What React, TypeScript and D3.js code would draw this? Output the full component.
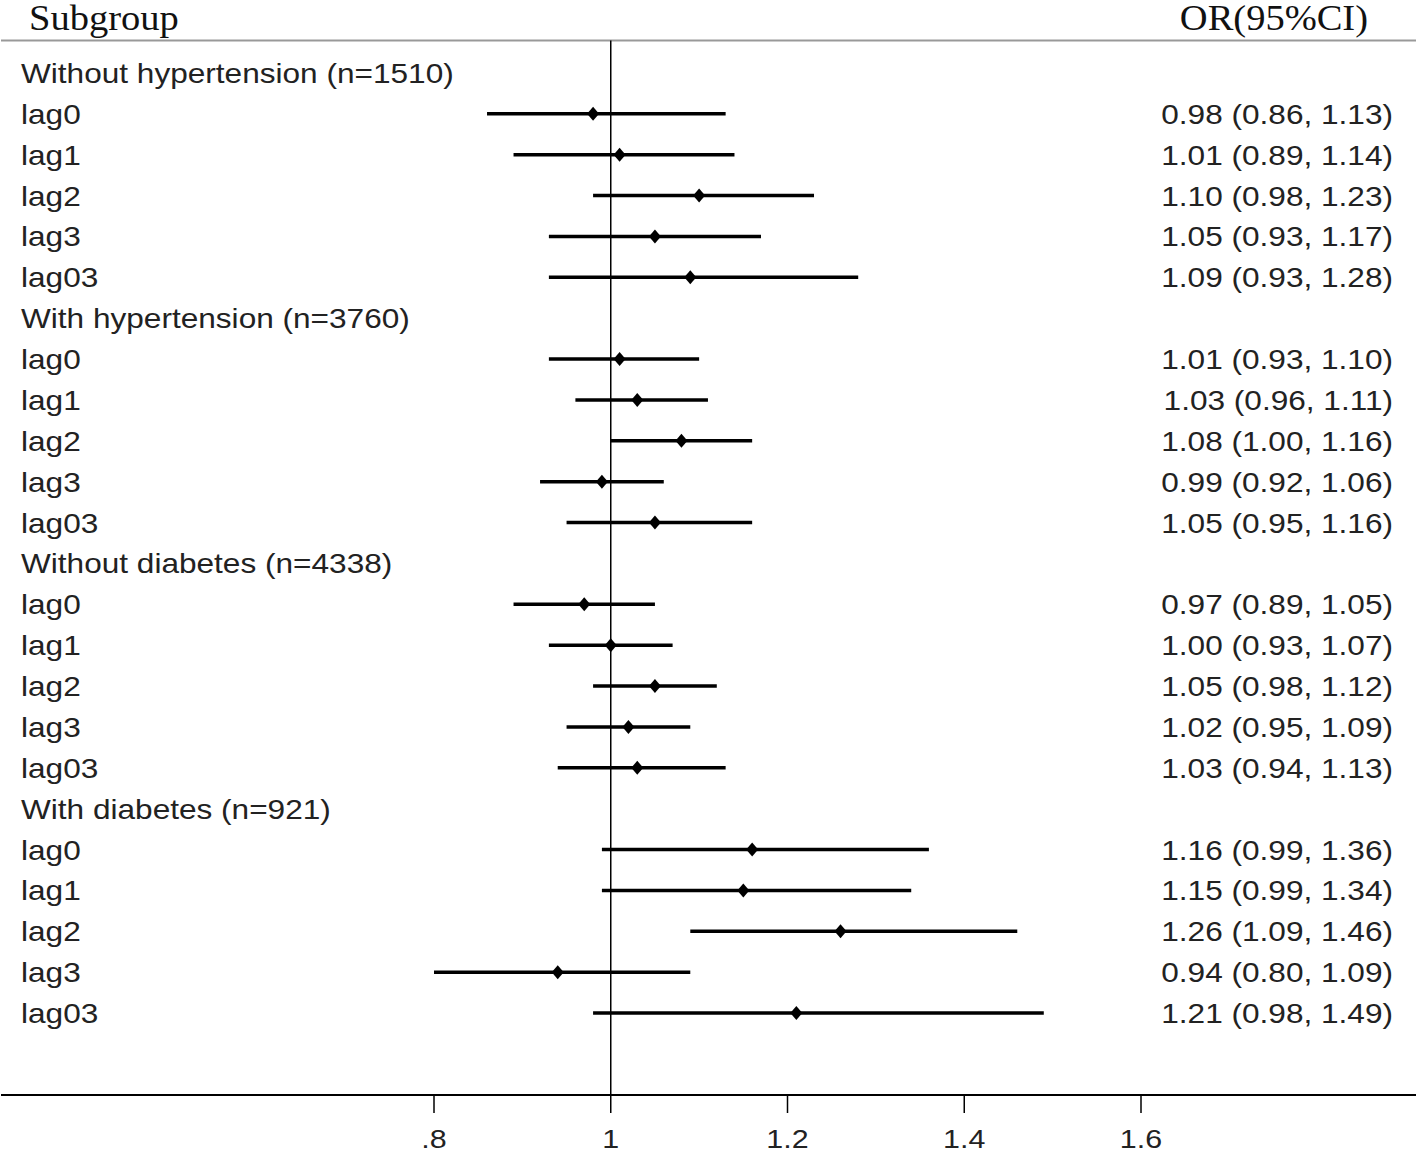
import React from "react";
import * as d3 from "d3";

const groups = [
  "Without hypertension (n=1510)",
  "With hypertension (n=3760)",
  "Without diabetes (n=4338)",
  "With diabetes (n=921)",
];
const lags = ["lag0", "lag1", "lag2", "lag3", "lag03"];
const orValues = [
  [0.98, 1.01, 1.10, 1.05, 1.09],
  [1.01, 1.03, 1.08, 0.99, 1.05],
  [0.97, 1.00, 1.05, 1.02, 1.03],
  [1.16, 1.15, 1.26, 0.94, 1.21],
];
const lowerValues = [
  [0.86, 0.89, 0.98, 0.93, 0.93],
  [0.93, 0.96, 1.00, 0.92, 0.95],
  [0.89, 0.93, 0.98, 0.95, 0.94],
  [0.99, 0.99, 1.09, 0.80, 0.98],
];
const upperValues = [
  [1.13, 1.14, 1.23, 1.17, 1.28],
  [1.10, 1.11, 1.16, 1.06, 1.16],
  [1.05, 1.07, 1.12, 1.09, 1.13],
  [1.36, 1.34, 1.46, 1.09, 1.49],
];
const tickValues = [0.8, 1.0, 1.2, 1.4, 1.6];
const tickLabels = [".8", "1", "1.2", "1.4", "1.6"];

type Row = { label: string; header: boolean; or?: number; lo?: number; hi?: number };

const rows: Row[] = [];
groups.forEach((g, gi) => {
  rows.push({ label: g, header: true });
  lags.forEach((l, li) => {
    rows.push({
      label: l,
      header: false,
      or: orValues[gi][li],
      lo: lowerValues[gi][li],
      hi: upperValues[gi][li],
    });
  });
});

const W = 1418;
const H = 1154;
const sans = "'Liberation Sans', Arial, sans-serif";
const serif = "'Liberation Serif', 'Times New Roman', serif";

function T({ x, y, anchor = "start", size = 27, sx = 1.17, family = sans, fill = "#222", children }: any) {
  return (
    <text
      transform={`translate(${x},${y}) scale(${sx},1)`}
      textAnchor={anchor}
      fontFamily={family}
      fontSize={size}
      fill={fill}
    >
      {children}
    </text>
  );
}

export default function App() {
  const x = d3.scaleLinear().domain([0.8, 1.6]).range([434, 1141]);
  const y = d3
    .scalePoint<number>()
    .domain(rows.map((_, i) => i))
    .range([73, 1013]);
  const axisY = 1095;
  const topLine = 40.5;
  const fmt = d3.format(".2f");

  return (
    <svg
      width={W}
      height={H}
      style={{ position: "absolute", left: 0, top: 0, background: "#fff" }}
    >
      <rect width={W} height={H} fill="#fff" />
      <T x={29} y={30} size={35} sx={1.1} family={serif} fill="#111">Subgroup</T>
      <T x={1368} y={30} size={35} sx={1.1} family={serif} anchor="end" fill="#111">OR(95%CI)</T>
      <line x1={1} x2={1416} y1={topLine} y2={topLine} stroke="#999" strokeWidth={2} />
      <line x1={x(1)} x2={x(1)} y1={topLine} y2={axisY} stroke="#000" strokeWidth={1.5} />

      {rows.map((r, i) => {
        const cy = y(i)!;
        return (
          <g key={i}>
            <T x={21} y={cy + 10}>{r.label}</T>
            {!r.header && (
              <>
                <line
                  x1={x(r.lo!)}
                  x2={x(r.hi!)}
                  y1={cy}
                  y2={cy}
                  stroke="#000"
                  strokeWidth={3.5}
                />
                <path
                  d={`M${x(r.or!)},${cy - 7} L${x(r.or!) + 6},${cy} L${x(r.or!)},${cy + 7} L${x(r.or!) - 6},${cy} Z`}
                  fill="#000"
                />
                <T x={1393} y={cy + 10} anchor="end">
                  {`${fmt(r.or!)} (${fmt(r.lo!)}, ${fmt(r.hi!)})`}
                </T>
              </>
            )}
          </g>
        );
      })}

      <line x1={1} x2={1416} y1={axisY} y2={axisY} stroke="#000" strokeWidth={2} />
      {tickValues.map((t, i) => (
        <g key={t}>
          <line x1={x(t)} x2={x(t)} y1={axisY} y2={axisY + 18} stroke="#000" strokeWidth={1.5} />
          <T x={x(t)} y={1148} anchor="middle" size={26}>{tickLabels[i]}</T>
        </g>
      ))}
    </svg>
  );
}
